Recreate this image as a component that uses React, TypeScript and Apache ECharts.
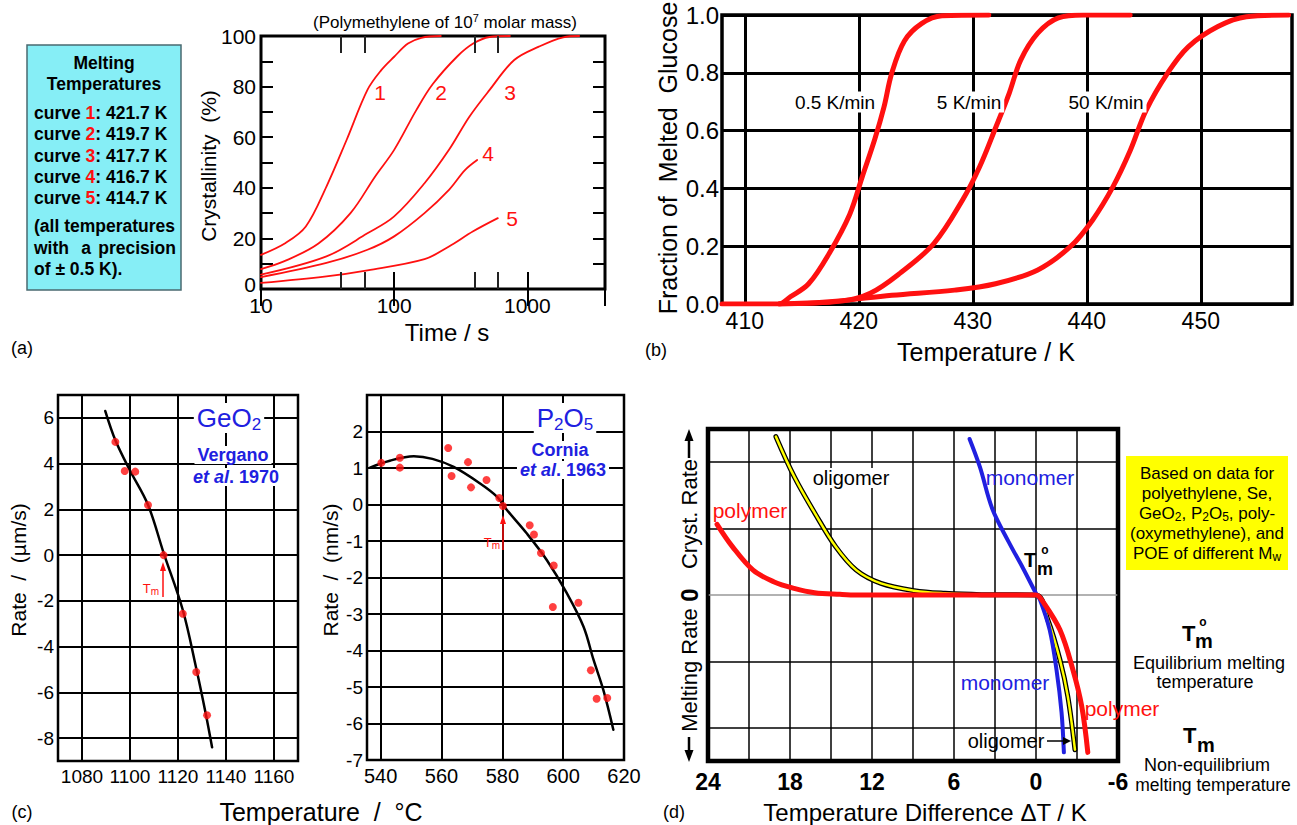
import React, { useEffect, useRef } from 'react';
import * as echarts from 'echarts';

const FONT = '"Liberation Sans", Arial, Helvetica, sans-serif';
const RED = '#ff1010';
const BLUE = '#2020e0';

// ---------- (a) crystallinity of polymethylene vs time ----------
const timeLabelsA = [10, 100, 1000];
const minorTimeTicksA = [40, 60, 400, 600];
const crystCurve1 = [[10, 13.5], [15.3, 18.2], [21.7, 24.7], [31, 40.5], [44, 59], [63, 78.7], [80, 86.5], [100, 91.8], [127, 97], [160, 99.3], [224, 100]];
const crystCurve2 = [[10, 7.9], [15, 11], [27, 18], [47, 30], [72, 44.5], [100, 55], [147, 70.8], [195, 81], [296, 91.8], [392, 97], [520, 99.6], [740, 100]];
const crystCurve3 = [[10, 5.7], [31, 12.9], [63, 22], [100, 28.7], [169, 41.8], [258, 55], [366, 68], [521, 78.7], [797, 90.5], [1220, 95.8], [1860, 99.5], [2450, 100]];
const crystCurve4 = [[10, 4.7], [31, 10.3], [63, 15.5], [100, 20.8], [169, 30], [258, 39.2], [340, 47], [420, 51]];
const crystCurve5 = [[10, 2.4], [31, 5], [63, 7.4], [169, 11.8], [258, 16.8], [392, 22.8], [600, 28]];
const meltingTemps = ['421.7 K', '419.7 K', '417.7 K', '416.7 K', '414.7 K'];

// ---------- (b) fraction of melted glucose ----------
const glucoseTempTicks = [410, 420, 430, 440, 450];
const glucose05 = [[408, 0], [413, 0], [414, 0.025], [415.6, 0.07], [417.4, 0.175], [419.2, 0.31], [420.3, 0.44], [421.4, 0.57], [422.2, 0.68], [422.9, 0.8], [424, 0.91], [425.5, 0.97], [427.3, 0.997], [431.4, 1.0]];
const glucose5 = [[413, 0], [418.5, 0.01], [421, 0.037], [423.6, 0.106], [426.6, 0.21], [429.1, 0.36], [430.6, 0.475], [432, 0.61], [433.2, 0.73], [434.2, 0.844], [435.7, 0.937], [437.5, 0.99], [439.7, 1.0], [443.8, 1.0]];
const glucose50 = [[413, 0], [417.4, 0.008], [422.9, 0.03], [428.4, 0.048], [432, 0.07], [435.7, 0.118], [438.6, 0.2], [440.5, 0.29], [442.3, 0.406], [443.8, 0.53], [445.2, 0.67], [447.1, 0.8], [448.9, 0.89], [451.5, 0.96], [454, 0.994], [457.7, 1.0]];
const heatingRates = ['0.5 K/min', '5 K/min', '50 K/min'];

// ---------- (c) GeO2 and P2O5 rates ----------
const geoTempTicks = [1080, 1100, 1120, 1140, 1160];
const geoRateTicks = [-8, -6, -4, -2, 0, 2, 4, 6];
const geoFit = [[1089.7, 6.3], [1094, 5.0], [1100, 3.7], [1107.5, 2.2], [1114, 0.1], [1122, -2.4], [1127.5, -4.9], [1131.5, -6.9], [1134.2, -8.4]];
const geoPoints = [[1093.9, 4.95], [1097.8, 3.68], [1102.2, 3.65], [1107.5, 2.19], [1114, 0], [1122, -2.56], [1127.6, -5.11], [1132.1, -7.0]];
const p2o5TempTicks = [540, 560, 580, 600, 620];
const p2o5Fit = [[536.5, 1.01], [543, 1.2], [550.9, 1.32], [557, 1.25], [564, 1.03], [572.8, 0.57], [578.3, 0.21], [581.5, -0.15], [588, -0.79], [594.6, -1.52], [601.2, -2.43], [606.7, -3.35], [610, -4.26], [613.2, -5.08], [616.5, -6.17]];
const p2o5Points = [[540.2, 1.14], [546.3, 1.28], [546.3, 1.01], [562.2, 1.55], [563.3, 0.78], [568.7, 1.16], [569.7, 0.47], [574.8, 0.67], [579, 0.18], [580.2, -0.04], [589, -0.57], [590.4, -0.82], [592.7, -1.33], [596.9, -1.67], [596.6, -2.81], [605, -2.69], [609.1, -4.54], [611, -5.32], [614.5, -5.3]];

// ---------- (d) rate vs temperature difference ----------
const dRateGrid = [-2, -1, 0, 1, 2];
const polymerD = [[23.34, 1.065], [22.2, 0.725], [20.7, 0.375], [19.2, 0.2], [17.7, 0.1], [16.2, 0.035], [14.35, 0.01], [13.1, 0], [0, 0], [-0.5, -0.1], [-1.75, -0.525], [-2.7, -1.125], [-3.35, -1.68], [-3.79, -2.37]];
const oligomerD = [[19.03, 2.385], [17.67, 1.775], [16.16, 1.225], [14.65, 0.725], [13.15, 0.375], [11.34, 0.175], [8.9, 0.065], [6.67, 0.025], [4, 0.005], [0, 0], [-0.87, -0.375], [-1.75, -0.975], [-2.33, -1.53], [-2.85, -2.33]];
const monomerD = [[4.86, 2.35], [4.1, 1.925], [3.2, 1.3], [2.0, 0.8], [0.94, 0.4], [0, 0.025], [-0.3, -0.075], [-1.0, -0.525], [-1.5, -1.125], [-1.87, -1.77], [-2.04, -2.37]];

// ---------- helpers ----------
const T = (x: number, y: number, text: string, size: number, o: any = {}) => ({
  type: 'text',
  x,
  y,
  z: o.z ?? 20,
  silent: true,
  rotation: o.rot ?? 0,
  style: {
    text,
    fill: o.fill ?? '#000',
    font: `${o.italic ? 'italic ' : ''}${o.bold ? 'bold ' : ''}${size}px ${FONT}`,
    align: o.align ?? 'center',
    verticalAlign: o.va ?? 'middle',
    textAlign: o.align ?? 'center',
    textVerticalAlign: o.va ?? 'middle',
    lineHeight: o.lh,
    rich: o.rich,
    backgroundColor: o.bg,
    padding: o.pad,
  },
});
const sub = (size: number, color: string, weight = 'normal') => ({
  font: `${weight} ${size}px ${FONT}`,
  fill: color,
  verticalAlign: 'bottom',
  lineHeight: size,
});
const sup = (size: number, color: string, weight = 'normal') => ({
  font: `${weight} ${size}px ${FONT}`,
  fill: color,
  verticalAlign: 'top',
  lineHeight: size,
});
const seg = (x1: number, y1: number, x2: number, y2: number, color: string, w: number) => ({
  type: 'line',
  z: 20,
  silent: true,
  shape: { x1, y1, x2, y2 },
  style: { stroke: color, lineWidth: w },
});
const head = (pts: number[][], color: string) => ({
  type: 'polygon',
  z: 20,
  silent: true,
  shape: { points: pts },
  style: { fill: color },
});

const line = (data: number[][], xi: number, yi: number, color: string, width: number, extra: any = {}) => ({
  type: 'line',
  xAxisIndex: xi,
  yAxisIndex: yi,
  data,
  showSymbol: false,
  symbol: 'none',
  smooth: 0.35,
  silent: true,
  z: 3,
  lineStyle: { color, width, cap: 'round', join: 'round' },
  ...extra,
});

const lbl = (size: number, extra: any = {}) => ({ color: '#000', fontFamily: FONT, fontSize: size, ...extra });
const noLine = { show: false };
const plain = (v: number) => String(v);

function buildOption(): any {
  const minorTicks = minorTimeTicksA.flatMap((v) => [
    [{ coord: [v, 0] }, { coord: [v, 6.7] }],
    [{ coord: [v, 100] }, { coord: [v, 93.3] }],
  ]);

  const boxText = 17.5;
  const graphics: any[] = [
    // ----- (a) -----
    { type: 'rect', z: 1, silent: true, shape: { x: 27, y: 45, width: 154, height: 245 }, style: { fill: '#86eef6', stroke: '#4a6a70', lineWidth: 1.5 } },
    T(104, 63, 'Melting', boxText, { bold: true }),
    T(104, 84, 'Temperatures', boxText, { bold: true }),
    ...meltingTemps.map((t, i) =>
      T(34, 113 + i * 21.3, `curve {r|${i + 1}}: ${t}`, boxText, {
        bold: true,
        align: 'left',
        rich: { r: { font: `bold ${boxText}px ${FONT}`, fill: RED } },
      })
    ),
    T(34, 226, '(all temperatures', boxText, { bold: true, align: 'left' }),
    T(34, 248, 'with', boxText, { bold: true, align: 'left' }),
    T(86, 248, 'a', boxText, { bold: true }),
    T(176, 248, 'precision', boxText, { bold: true, align: 'right' }),
    T(34, 269, 'of ± 0.5 K).', boxText, { bold: true, align: 'left' }),
    T(445, 22, '(Polymethylene of 10{s|7} molar mass)', 17, { lh: 20, rich: { s: sup(11, '#000') } }),
    T(208, 166, 'Crystallinity  (%)', 21, { rot: Math.PI / 2 }),
    T(447, 332, 'Time / s', 24),
    T(380, 92, '1', 21, { fill: RED }),
    T(441, 92, '2', 21, { fill: RED }),
    T(510, 92, '3', 21, { fill: RED }),
    T(488, 153, '4', 21, { fill: RED }),
    T(512, 218, '5', 21, { fill: RED }),
    T(22, 348, '(a)', 18),

    // ----- (b) -----
    T(668, 158, 'Fraction of  Melted  Glucose', 25, { rot: Math.PI / 2 }),
    T(835, 102, heatingRates[0], 19, { bg: '#fff', pad: [1, 3] }),
    T(969, 102, heatingRates[1], 19, { bg: '#fff', pad: [1, 3] }),
    T(1106, 102, heatingRates[2], 19, { bg: '#fff', pad: [1, 3] }),
    T(986, 352, 'Temperature / K', 25),
    T(656, 350, '(b)', 18),

    // ----- (c) -----
    T(18, 570, 'Rate  /  (µm/s)', 21, { rot: Math.PI / 2 }),
    T(229, 418, 'GeO{s|2}', 26, { fill: BLUE, bg: '#fff', pad: [0, 3], lh: 30, rich: { s: sub(17, BLUE) } }),
    T(233, 455, 'Vergano', 18, { bold: true, fill: BLUE, bg: '#fff', pad: [0, 3] }),
    T(236, 477, '{i|et al}. 1970', 18, { bold: true, fill: BLUE, bg: '#fff', pad: [0, 3], rich: { i: { font: `italic bold 18px ${FONT}`, fill: BLUE } } }),
    T(151, 588, 'T{s|m}', 13, { fill: RED, lh: 16, rich: { s: sub(10, RED) } }),
    seg(163, 597, 163, 566, RED, 1.5),
    head([[160, 571], [166, 571], [163, 562]], RED),
    T(330, 570, 'Rate  /  (nm/s)', 21, { rot: Math.PI / 2 }),
    T(565, 418, 'P{s|2}O{s|5}', 26, { fill: BLUE, bg: '#fff', pad: [0, 3], lh: 30, rich: { s: sub(17, BLUE) } }),
    T(560, 450, 'Cornia', 18, { bold: true, fill: BLUE, bg: '#fff', pad: [0, 3] }),
    T(563, 470, '{i|et al}. 1963', 18, { bold: true, fill: BLUE, bg: '#fff', pad: [0, 3], rich: { i: { font: `italic bold 18px ${FONT}`, fill: BLUE } } }),
    T(492, 542, 'T{s|m}', 13, { fill: RED, lh: 16, rich: { s: sub(10, RED) } }),
    seg(503, 550, 503, 519, RED, 1.5),
    head([[500, 524], [506, 524], [503, 515]], RED),
    T(321, 812, 'Temperature  /  °C', 25),
    T(22, 812, '(c)', 18),

    // ----- (d) -----
    T(689, 514, 'Cryst. Rate', 22, { rot: Math.PI / 2 }),
    T(689, 670, 'Melting Rate', 22, { rot: Math.PI / 2 }),
    T(689, 595, '0', 24, { rot: Math.PI / 2, bold: true }),
    seg(689, 458, 689, 436, '#000', 2.5),
    head([[684.5, 441], [693.5, 441], [689, 429]], '#000'),
    seg(689, 737, 689, 755, '#000', 2.5),
    head([[684.5, 750], [693.5, 750], [689, 762]], '#000'),
    T(851, 478, 'oligomer', 20, { bg: '#fff', pad: [0, 2] }),
    T(1030, 477, 'monomer', 21, { fill: BLUE }),
    T(750, 510, 'polymer', 21, { fill: RED }),
    T(1024, 560, 'T', 20, { bold: true, align: 'left' }),
    T(1045, 550, 'o', 12, { bold: true }),
    T(1037, 569, 'm', 18, { bold: true, align: 'left' }),
    T(1005, 682, 'monomer', 21, { fill: BLUE }),
    T(1122, 708, 'polymer', 21, { fill: RED }),
    T(1006, 741, 'oligomer', 20),
    seg(1047, 741, 1066, 741, '#000', 1.5),
    head([[1063, 737], [1063, 745], [1071, 741]], '#000'),
    { type: 'rect', z: 1, silent: true, shape: { x: 1126, y: 456, width: 162, height: 114 }, style: { fill: '#ffff00' } },
    T(1207, 473, 'Based on data for', 17),
    T(1207, 493, 'polyethylene, Se,', 17),
    T(1207, 513, 'GeO{s|2}, P{s|2}O{s|5}, poly-', 17, { lh: 20, rich: { s: sub(12, '#000') } }),
    T(1207, 533, '(oxymethylene), and', 17),
    T(1207, 553, 'POE of different M{s|w}', 17, { lh: 20, rich: { s: sub(12, '#000') } }),
    T(1182, 633, 'T', 22, { bold: true, align: 'left' }),
    T(1203, 622, 'o', 12, { bold: true }),
    T(1195, 641, 'm', 20, { bold: true, align: 'left' }),
    T(1209, 663, 'Equilibrium melting', 18),
    T(1205, 682, 'temperature', 18),
    T(1183, 735, 'T', 22, { bold: true, align: 'left' }),
    T(1197, 745, 'm', 20, { bold: true, align: 'left' }),
    T(1207, 765, 'Non-equilibrium', 18),
    T(1213, 785, 'melting temperature', 17.5),
    T(925, 812, 'Temperature Difference ΔT / K', 24),
    T(674, 812, '(d)', 18),
  ];

  return {
    animation: false,
    backgroundColor: '#fff',
    textStyle: { fontFamily: FONT },
    grid: [
      { left: 261, top: 36, width: 344, height: 253, show: true, borderColor: '#000', borderWidth: 3 },
      { left: 722, top: 15, width: 570, height: 289, show: true, borderColor: '#000', borderWidth: 3.5 },
      { left: 58, top: 395, width: 240, height: 366, show: true, borderColor: '#000', borderWidth: 2.5 },
      { left: 367, top: 395, width: 257, height: 365, show: true, borderColor: '#000', borderWidth: 2.5 },
      { left: 708, top: 429, width: 410, height: 332, show: true, borderColor: '#000', borderWidth: 4.5 },
    ],
    xAxis: [
      {
        gridIndex: 0, type: 'log', logBase: 10, min: 10, max: 3830, position: 'bottom',
        axisLine: noLine,
        axisTick: { inside: true, length: 17, lineStyle: { color: '#000', width: 2 } },
        axisLabel: lbl(21, { margin: 6, formatter: (v: number) => (timeLabelsA.includes(Math.round(v)) ? String(Math.round(v)) : '') }),
        splitLine: { show: false },
      },
      {
        gridIndex: 0, type: 'log', logBase: 10, min: 10, max: 3830, position: 'top',
        axisLine: noLine,
        axisTick: { inside: true, length: 17, lineStyle: { color: '#000', width: 2 } },
        axisLabel: { show: false },
        splitLine: { show: false },
      },
      {
        gridIndex: 1, type: 'value', min: 408, max: 458,
        axisLine: noLine,
        axisTick: { show: false, customValues: glucoseTempTicks },
        axisLabel: lbl(23, { margin: 5, customValues: glucoseTempTicks, formatter: plain }),
        splitLine: { show: true, lineStyle: { color: '#000', width: 3 } },
      },
      {
        gridIndex: 2, type: 'value', min: 1070, max: 1170,
        axisLine: noLine,
        axisTick: { show: false, customValues: geoTempTicks },
        axisLabel: lbl(19, { margin: 6, customValues: geoTempTicks, formatter: plain }),
        splitLine: { show: true, lineStyle: { color: '#000', width: 2 } },
      },
      {
        gridIndex: 3, type: 'value', min: 535.5, max: 620,
        axisLine: noLine,
        axisTick: { show: false, customValues: p2o5TempTicks },
        axisLabel: lbl(20, { margin: 6, customValues: p2o5TempTicks, formatter: plain }),
        splitLine: { show: true, lineStyle: { color: '#000', width: 2 } },
      },
      {
        gridIndex: 4, type: 'value', min: -6, max: 24, interval: 3, inverse: true,
        axisLine: noLine,
        axisTick: { show: false },
        axisLabel: lbl(23, { fontWeight: 'bold', margin: 9, formatter: (v: number) => (v % 6 === 0 ? String(v) : '') }),
        splitLine: { show: true, lineStyle: { color: '#000', width: 1.5 } },
      },
    ],
    yAxis: [
      {
        gridIndex: 0, type: 'value', min: 0, max: 100, interval: 10,
        axisLine: noLine,
        axisTick: { inside: true, length: 12, lineStyle: { color: '#000', width: 2 } },
        axisLabel: lbl(21, {
          margin: 5,
          formatter: (v: number) => (v === 0 ? '{z|0}' : v % 20 === 0 ? String(v) : ''),
          rich: { z: { fontSize: 21, fontFamily: FONT, color: '#000', padding: [0, 0, 10, 0] } },
        }),
        splitLine: { show: false },
      },
      {
        gridIndex: 0, type: 'value', min: 0, max: 100, interval: 10, position: 'right',
        axisLine: noLine,
        axisTick: { inside: true, length: 12, lineStyle: { color: '#000', width: 2 } },
        axisLabel: { show: false },
        splitLine: { show: false },
      },
      {
        gridIndex: 1, type: 'value', min: 0, max: 1, interval: 0.2,
        axisLine: noLine,
        axisTick: { show: false },
        axisLabel: lbl(24, { margin: 3, formatter: (v: number) => v.toFixed(1) }),
        splitLine: { show: true, lineStyle: { color: '#000', width: 3 } },
      },
      {
        gridIndex: 2, type: 'value', min: -9, max: 7,
        axisLine: noLine,
        axisTick: { show: false, customValues: geoRateTicks },
        axisLabel: lbl(19, { margin: 4, customValues: geoRateTicks, formatter: plain }),
        splitLine: { show: true, lineStyle: { color: '#000', width: 2 } },
      },
      {
        gridIndex: 3, type: 'value', min: -7, max: 3, interval: 1,
        axisLine: noLine,
        axisTick: { show: false },
        axisLabel: lbl(19, { margin: 4, formatter: (v: number) => (v === 3 ? '' : String(v)) }),
        splitLine: { show: true, lineStyle: { color: '#000', width: 2 } },
      },
      {
        gridIndex: 4, type: 'value', min: -2.5, max: 2.5,
        axisLine: noLine,
        axisTick: { show: false, customValues: dRateGrid },
        axisLabel: { show: false },
        splitLine: { show: true, lineStyle: { color: ['#000', '#000', '#999', '#000', '#000'], width: 1.5 } },
      },
    ],
    series: [
      // (a)
      line(crystCurve1, 0, 0, RED, 1.8, {
        markLine: {
          silent: true,
          symbol: ['none', 'none'],
          label: { show: false },
          lineStyle: { color: '#222', width: 2, type: 'solid' },
          data: minorTicks,
        },
      }),
      line(crystCurve2, 0, 0, RED, 1.8),
      line(crystCurve3, 0, 0, RED, 1.8),
      line(crystCurve4, 0, 0, RED, 1.8),
      line(crystCurve5, 0, 0, RED, 1.8),
      // (b)
      line(glucose05, 2, 2, RED, 5),
      line(glucose5, 2, 2, RED, 5),
      line(glucose50, 2, 2, RED, 5),
      // (c)
      line(geoFit, 3, 3, '#000', 2.5),
      { type: 'scatter', xAxisIndex: 3, yAxisIndex: 3, data: geoPoints, symbolSize: 8, itemStyle: { color: RED }, z: 4, silent: true },
      line(p2o5Fit, 4, 4, '#000', 2.5),
      { type: 'scatter', xAxisIndex: 4, yAxisIndex: 4, data: p2o5Points, symbolSize: 8, itemStyle: { color: RED }, z: 4, silent: true },
      // (d)
      line(oligomerD, 5, 5, '#000', 5),
      line(oligomerD, 5, 5, '#ffff00', 2.5, { z: 4 }),
      line(monomerD, 5, 5, BLUE, 4, { z: 5 }),
      line(polymerD, 5, 5, RED, 5, { z: 6 }),
    ],
    graphic: { elements: graphics },
  };
}

export default function App() {
  const ref = useRef<HTMLDivElement>(null);
  useEffect(() => {
    document.body.style.margin = '0';
    const chart = echarts.init(ref.current!, null, { renderer: 'svg' });
    chart.setOption(buildOption());
    return () => chart.dispose();
  }, []);
  return <div ref={ref} style={{ width: 1297, height: 825, background: '#fff' }} />;
}
